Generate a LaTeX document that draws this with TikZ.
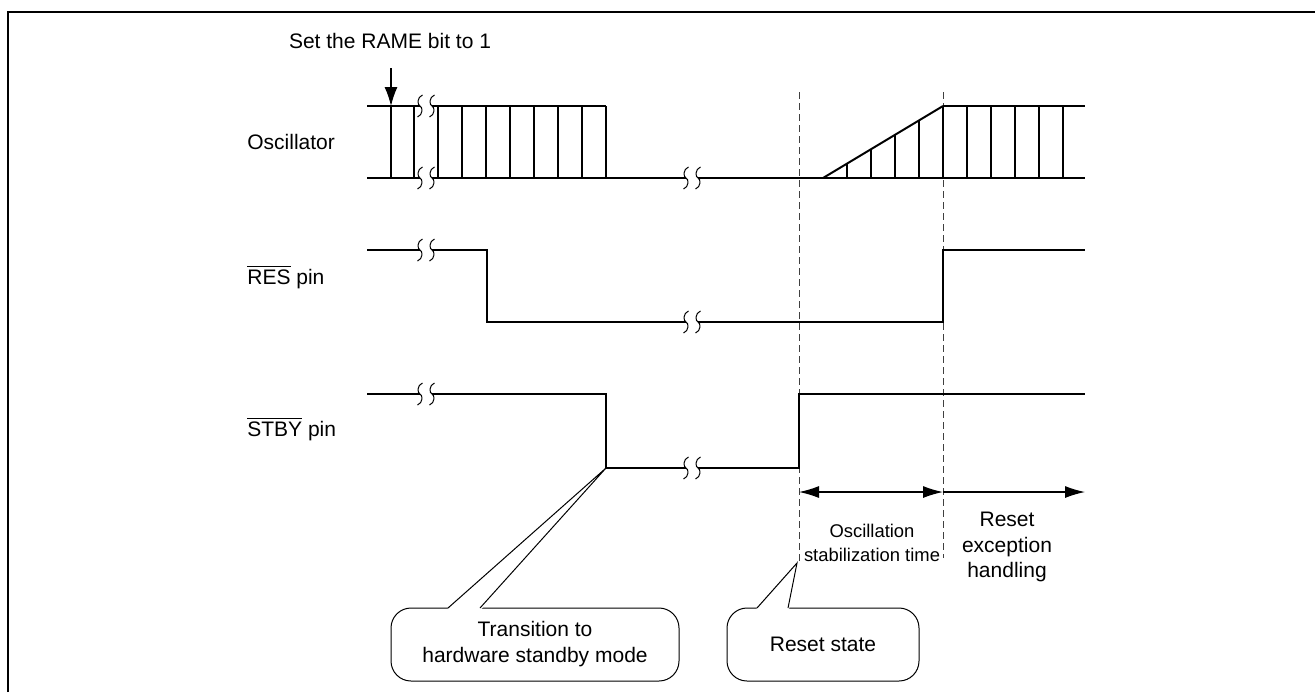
\documentclass[tikz,border=0pt]{standalone}
\usepackage{fontspec}
\setmainfont{Liberation Sans}
\usetikzlibrary{arrows.meta, positioning, calc}

\newcommand{\barsig}[1]{$\overline{\mbox{#1}}$}

\begin{document}
\begin{tikzpicture}[
    x=0.5pt, y=-0.5pt,
    font=\fontsize{10.5}{12.7}\selectfont,
    sig/.style={line width=1pt, line join=miter},
    guide/.style={line width=0.5pt, black!75, dash pattern=on 3.5pt off 2pt},
    dim/.style={line width=0.6pt, -{Latex[length=10pt, width=6pt]}},
    dimboth/.style={line width=0.6pt, {Latex[length=10pt, width=6pt]}-{Latex[length=10pt, width=6pt]}},
    callout/.style={draw, line width=0.5pt, rounded corners=10pt, align=center, inner sep=0pt},
    siglabel/.style={anchor=base west, inner sep=0pt},
    tail/.style={line width=0.5pt},
    brk/.pic={
        \foreach \d in {-6,6}
            \draw[line width=0.5pt] (\d+2.5,-11) .. controls (\d-3,-9) and (\d-3,-1) .. (\d,0)
                .. controls (\d+3,1) and (\d+3,9) .. (\d-2.5,11);
    }
]
\useasboundingbox (0,0) rectangle (1315,692);

% Frame
\draw[line width=1pt] (8,692) -- (8,12) -- (1315,12);

% Signal names
\node[siglabel] (osclbl) at (247,149) {Oscillator};
\node[siglabel] (reslbl) at (247,284) {\barsig{RES} pin};
\node[siglabel] (stbylbl) at (247,436) {\barsig{STBY} pin};

% Key instants
\coordinate (rame) at (391,106);
\coordinate (stbyfall) at (606,468);
\coordinate (rsttop) at (799,92);
\coordinate (rsttip) at (797,563);
\coordinate (osctop) at (943,92);

% Guides
\draw[guide] (rsttop) -- (799,562);
\draw[guide] (osctop) -- (943,558);

% Callouts
\node[callout, minimum width=144pt, minimum height=36.5pt,
      font=\fontsize{10.5}{13}\selectfont] (cbstby) at (535,644.5)
      {Transition to\\hardware standby mode};
\node[callout, minimum width=96pt, minimum height=36.5pt] (cbreset) at (823,644.5) {Reset state};
\fill[white] (447,609.5) -- (stbyfall) -- (481,609.5) -- cycle;
\draw[tail] (448,608) -- (stbyfall) -- (480,608);
\fill[white] (756,609.5) -- (rsttip) -- (789,609.5) -- cycle;
\draw[tail] (757,608) -- (rsttip) -- (788,608);

% RAME bit
\node[anchor=base] (ramelbl) at (390,48) {Set the RAME bit to 1};
\draw[line width=0.6pt, -{Latex[length=9.5pt, width=6.5pt]}] (391,68) -- (rame);

% Oscillator
\draw[sig] (367,106) -- (420,106);
\draw[sig] (432,106) -- (606,106);
\draw[sig] (943,106) -- (1085,106);
\draw[sig] (367,178) -- (420,178);
\draw[sig] (432,178) -- (686,178);
\draw[sig] (698,178) -- (1085,178);
\foreach \x in {391,414,438,462,...,606}
    \draw[sig] (\x,106) -- (\x,178);
\draw[sig] (823,178) -- (943,106);
\foreach \x in {847,871,895,919}
    \draw[sig] (\x,178) -- (\x,{178-(\x-823)*0.6});
\foreach \x in {943,967,...,1063}
    \draw[sig] (\x,106) -- (\x,178);
\pic at (426,106) {brk};
\pic at (426,178) {brk};
\pic at (692,178) {brk};

% RES pin
\draw[sig] (367,250) -- (420,250);
\draw[sig] (432,250) -- (487,250) -- (487,322) -- (686,322);
\draw[sig] (698,322) -- (943,322) -- (943,250) -- (1085,250);
\pic at (426,250) {brk};
\pic at (692,322) {brk};

% STBY pin
\draw[sig] (367,394) -- (420,394);
\draw[sig] (432,394) -- (606,394) -- (stbyfall) -- (686,468);
\draw[sig] (698,468) -- (799,468) -- (799,394) -- (1085,394);
\pic at (426,394) {brk};
\pic at (692,468) {brk};

% Durations
\coordinate (dimA) at (799,492);
\coordinate (dimB) at (943,492);
\coordinate (dimC) at (1085,492);
\draw[dimboth] (dimA) -- (dimB);
\draw[dim] (dimB) -- (dimC);
\node[align=center, font=\fontsize{9.2}{12}\selectfont] (osctime) at (872,543)
    {Oscillation\\stabilization time};
\node[align=center] (rstexc) at (1007,547) {Reset\\exception\\handling};

\end{tikzpicture}
\end{document}
